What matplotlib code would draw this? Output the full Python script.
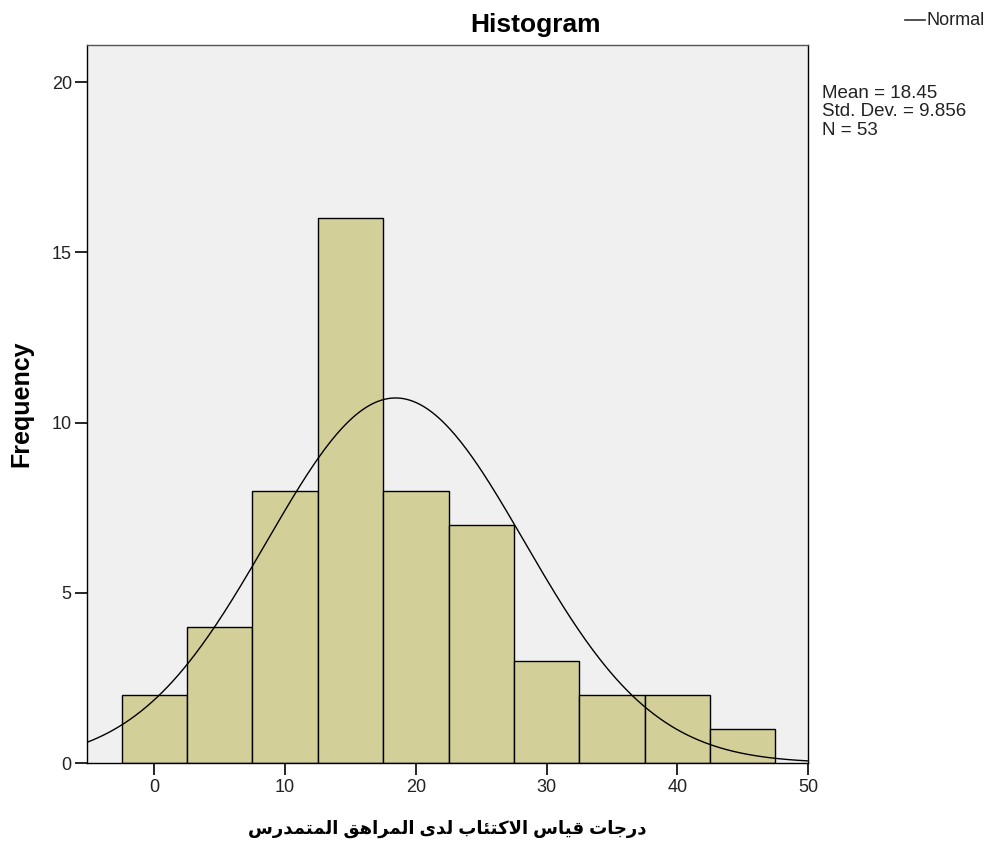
import numpy as np
import matplotlib
matplotlib.use("Agg")
import matplotlib.pyplot as plt
from matplotlib.lines import Line2D

# Данные гистограммы (центры интервалов и частоты)
bin_centers = [0, 5, 10, 15, 20, 25, 30, 35, 40, 45]
counts = [2, 4, 8, 16, 8, 7, 3, 2, 2, 1]
bin_width = 5
mean_val = 18.45
std_val = 9.856
n_total = 53

x_label_ar = "درجات قياس الاكتئاب لدى المراهق المتمدرس"

# Простейшее соединение арабских букв: (изол., конечн., начальн., средн.)
FORMS = {
    "ا": ("\uFE8D", "\uFE8E", None, None),
    "ب": ("\uFE8F", "\uFE90", "\uFE91", "\uFE92"),
    "ت": ("\uFE95", "\uFE96", "\uFE97", "\uFE98"),
    "ج": ("\uFE9D", "\uFE9E", "\uFE9F", "\uFEA0"),
    "د": ("\uFEA9", "\uFEAA", None, None),
    "ر": ("\uFEAD", "\uFEAE", None, None),
    "س": ("\uFEB1", "\uFEB2", "\uFEB3", "\uFEB4"),
    "ق": ("\uFED5", "\uFED6", "\uFED7", "\uFED8"),
    "ك": ("\uFED9", "\uFEDA", "\uFEDB", "\uFEDC"),
    "ل": ("\uFEDD", "\uFEDE", "\uFEDF", "\uFEE0"),
    "م": ("\uFEE1", "\uFEE2", "\uFEE3", "\uFEE4"),
    "ن": ("\uFEE5", "\uFEE6", "\uFEE7", "\uFEE8"),
    "ه": ("\uFEE9", "\uFEEA", "\uFEEB", "\uFEEC"),
    "ي": ("\uFEF1", "\uFEF2", "\uFEF3", "\uFEF4"),
    "ى": ("\uFEEF", "\uFEF0", None, None),
    "ئ": ("\uFE89", "\uFE8A", "\uFE8B", "\uFE8C"),
    "لا": ("\uFEFB", "\uFEFC", None, None),
}


def shape_arabic(text):
    # лам + алиф -> лигатура
    chars = []
    i = 0
    while i < len(text):
        if text[i] == "ل" and i + 1 < len(text) and text[i + 1] == "ا":
            chars.append("لا")
            i += 2
        else:
            chars.append(text[i])
            i += 1

    def joins_left(c):
        return c in FORMS and FORMS[c][2] is not None

    out = []
    for k, c in enumerate(chars):
        if c not in FORMS:
            out.append(c)
            continue
        prev_j = k > 0 and joins_left(chars[k - 1])
        next_j = k + 1 < len(chars) and chars[k + 1] in FORMS
        iso, fin, ini, med = FORMS[c]
        if prev_j and next_j and med:
            out.append(med)
        elif prev_j:
            out.append(fin)
        elif next_j and ini:
            out.append(ini)
        else:
            out.append(iso)
    return "".join(out)[::-1]


fig = plt.figure(figsize=(9.89, 8.46), dpi=100)
ax = fig.add_axes([0.088, 0.098, 0.729, 0.849])
ax.set_facecolor("#F0F0F0")

ax.bar(bin_centers, counts, width=bin_width, color="#D3CF98",
       edgecolor="black", linewidth=1.0, zorder=2)

xs = np.linspace(-5.2, 50, 400)
pdf = n_total * bin_width / (std_val * np.sqrt(2 * np.pi)) * \
    np.exp(-0.5 * ((xs - mean_val) / std_val) ** 2)
ax.plot(xs, pdf, color="black", linewidth=1.0, zorder=3)

ax.set_xlim(-5.15, 50)
ax.set_ylim(0, 21.1)
ax.set_xticks([0, 10, 20, 30, 40, 50])
ax.set_yticks([0, 5, 10, 15, 20])
ax.tick_params(direction="out", length=8.5, width=1.2, labelsize=13,
               color="black", labelcolor="#222222")
ax.tick_params(axis="y", pad=2.5)
ax.tick_params(axis="x", pad=3)
for s in ax.spines.values():
    s.set_color("black")
    s.set_linewidth(1.0)
ax.spines["top"].set_color("#555555")

fig.text(0.541, 0.971, "Histogram", fontsize=19, fontweight="bold",
         family="Liberation Sans", ha="center", va="center")
ax.set_ylabel("Frequency", fontsize=18, fontweight="bold",
              family="Liberation Sans", labelpad=13)
ax.set_xlabel(shape_arabic(x_label_ar), fontsize=13, fontweight="bold",
              family=["Liberation Sans", "DejaVu Sans"], labelpad=17)
for lab in ax.get_xticklabels() + ax.get_yticklabels():
    lab.set_family("Liberation Sans")

# Легенда и статистика справа
fig.add_artist(Line2D([0.915, 0.935], [0.976, 0.976], color="#333333",
                      linewidth=1.2))
fig.text(0.937, 0.976, "Normal", fontsize=13, family="Liberation Sans",
         va="center", ha="left", color="#222222")
fig.text(0.831, 0.899,
         f"Mean = {mean_val}\nStd. Dev. = {std_val}\nN = {n_total}",
         fontsize=13.5, family="Liberation Sans", va="top", ha="left",
         linespacing=1.08, color="#222222")

fig.savefig("out.png", dpi=100)
